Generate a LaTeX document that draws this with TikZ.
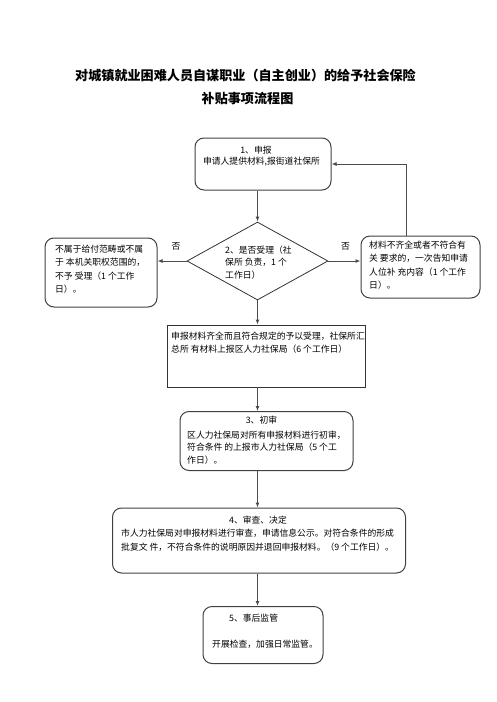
\documentclass[tikz,border=0pt]{standalone}
\usepackage{fontspec}
\newfontfamily\cjk{Noto Sans CJK SC}
\usetikzlibrary{shapes.geometric,arrows.meta,calc}
\begin{document}
\begin{tikzpicture}[x=1pt,y=-1pt,
  rbox/.style={draw=black!75, line width=1pt, rounded corners=9pt, inner sep=0},
  sbox/.style={draw=black!80, line width=0.8pt, inner sep=0},
  dbox/.style={draw=black!80, line width=0.8pt, diamond, inner sep=0},
  txt/.style={font=\cjk\fontsize{8.8}{13.5}\selectfont, align=left, inner sep=0, anchor=north west},
  ctxt/.style={font=\cjk\fontsize{8.8}{13.5}\selectfont, align=center, inner sep=0, anchor=base},
  ttl/.style={font=\cjk\bfseries\fontsize{13.1}{16}\selectfont, inner sep=0, anchor=base},
  arr/.style={draw=black!70, line width=1pt, -{Latex[length=5pt,width=4pt]}}
]
\useasboundingbox (0,0) rectangle (496,702);

% title
\node[ttl] (t1) at (245.5,80) {对城镇就业困难人员自谋职业（自主创业）的给予社会保险};
\node[ttl] (t2) at (247.5,103.5) {补贴事项流程图};

% boxes
\node[rbox, minimum width=136pt, minimum height=52pt] (b1) at (263,164) {};
\node[dbox, minimum width=141pt, minimum height=78pt] (d) at (257.5,261) {};
\node[rbox, minimum width=112pt, minimum height=69pt] (L) at (101,272.5) {};
\node[rbox, minimum width=119pt, minimum height=62pt] (R) at (420.5,267) {};
\node[sbox, minimum width=198pt, minimum height=62pt] (S) at (266,356) {};
\node[rbox, minimum width=173pt, minimum height=59pt] (b3) at (266.5,441) {};
\node[rbox, minimum width=293pt, minimum height=65pt] (b4) at (259,540.5) {};
\node[rbox, minimum width=120pt, minimum height=57pt] (b5) at (263,635) {};

% texts
\node[ctxt] (b1t) at (256,153.3) {1、申报};
\node[ctxt] (b1u) at (261.5,164.5) {申请人提供材料,报街道社保所};

\node[txt] (Lt) at (55,244.8) {不属于给付范畴或不属\\于\ 本机关职权范围的，\\不予\ 受理（1 个工作\\日）。};
\node[txt, font=\cjk\fontsize{8.8}{12.5}\selectfont] (dt) at (225,245.6) {2、是否受理（社\\保所\ 负责，1 个\\工作日）};
\node[txt] (Rt) at (369,240.8) {材料不齐全或者不符合有\\关\ 要求的，一次告知申请\\人位补\ 充内容（1 个工作\\日）。};
\node[txt, font=\cjk\fontsize{8.8}{12.5}\selectfont] (St) at (171,332.3) {申报材料齐全而且符合规定的予以受理，社保所汇\\总所\ 有材料上报区人力社保局（6 个工作日）};

\node[ctxt] (b3t) at (261.5,423.3) {3、初审};
\node[txt, font=\cjk\fontsize{8.8}{12.7}\selectfont] (b3u) at (187,430.6) {区人力社保局对所有申报材料进行初审，\\符合条件\ 的上报市人力社保局（5 个工\\作日）。};

\node[ctxt] (b4t) at (258,523.3) {4、审查、决定};
\node[txt, font=\cjk\fontsize{8.8}{14.5}\selectfont] (b4u) at (121,528.8) {市人力社保局对申报材料进行审查，申请信息公示。对符合条件的形成\\批复文\ 件，不符合条件的说明原因并退回申报材料。（9 个工作日）。};

\node[ctxt, anchor=base west] (b5t) at (229,621.3) {5、事后监管};
\node[ctxt, anchor=base west] (b5u) at (212,647.3) {开展检查，加强日常监管。};

\node[ctxt] (n1) at (176,249.5) {否};
\node[ctxt] (n2) at (345.5,249.5) {否};

% connectors
\draw[arr] (d.north |- b1.south) -- (d.north);
\draw[arr] (d.west) -- (d.west -| L.east);
\draw[arr] (d.east) -- (d.east -| R.west);
\draw[arr] ($(R.north west)!0.38!(R.north east)$) |- (b1.east);
\draw[arr] (d.south) -- (d.south |- S.north);
\draw[arr] (d.south |- S.south) -- (d.south |- b3.north);
\draw[arr] (d.south |- b3.south) -- (d.south |- b4.north);
\draw[arr] (d.south |- b4.south) -- (d.south |- b5.north);
\end{tikzpicture}
\end{document}
